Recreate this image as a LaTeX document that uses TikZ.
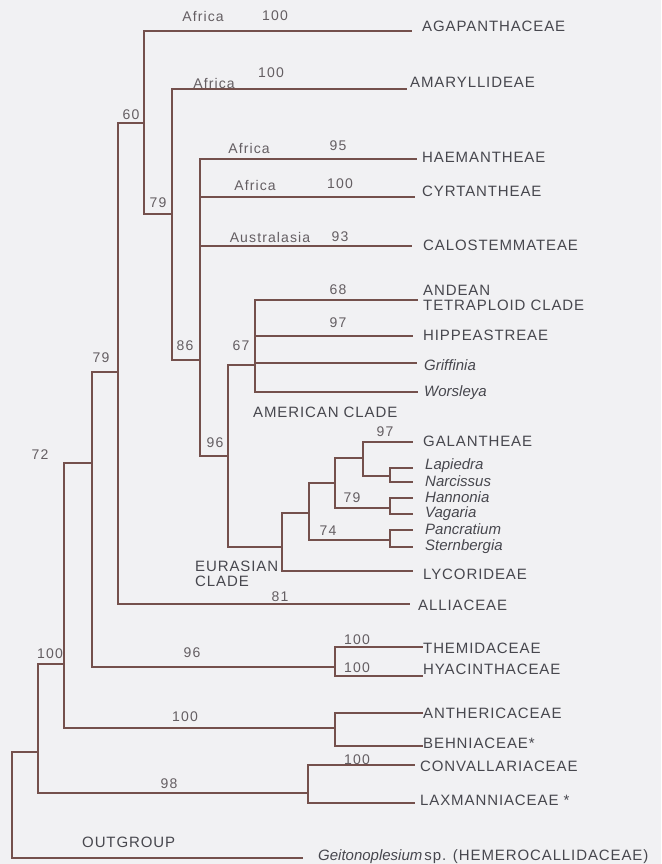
\documentclass[tikz,border=0pt]{standalone}
\usepackage{fontspec}
\setmainfont{Liberation Sans}
\newfontfamily\labfont[LetterSpace=6]{Liberation Sans}
\newfontfamily\numfont[LetterSpace=8]{Liberation Sans}
\definecolor{edgecol}{HTML}{74504C}
\definecolor{labcol}{HTML}{47474E}
\definecolor{numcol}{HTML}{645E62}
\definecolor{bgcol}{HTML}{F1F1F3}
\tikzset{
  edge/.style={draw=edgecol, line width=1.2pt},
  taxon/.style={text=labcol, font=\labfont\fontsize{15}{15}\selectfont, inner sep=0pt, anchor=base west},
  genus/.style={text=labcol, font=\fontsize{15}{15}\selectfont\itshape, inner sep=0pt, anchor=base west},
  multi/.style={text=labcol, font=\labfont\fontsize{15}{15}\selectfont, inner sep=0pt, anchor=north west, align=left},
  supp/.style={text=numcol, font=\numfont\fontsize{14}{14}\selectfont, inner sep=0pt, anchor=center},
}
\begin{document}
\begin{tikzpicture}[x=1pt,y=-1pt]
\fill[bgcol] (0,0) rectangle (661,864);
\useasboundingbox (0,0) rectangle (661,864);

% internal nodes (x of vertical, y where parent attaches)
\coordinate (root) at (12,805);
\coordinate (n100L) at (38,752);
\coordinate (n72) at (64,664);
\coordinate (n79L) at (92,463);
\coordinate (n60) at (118,372);
\coordinate (n79) at (144,123);
\coordinate (n86) at (172,214);
\coordinate (nX) at (200,360);
\coordinate (n96) at (228,456);
\coordinate (n67) at (255,365);
\coordinate (nEur) at (282,547);
\coordinate (nA) at (309,513);
\coordinate (nB) at (335,483);
\coordinate (n97) at (363,458);
\coordinate (nLN) at (390,476);
\coordinate (n79E) at (390,508);
\coordinate (n74) at (390,540);
\coordinate (nThem) at (335,667);
\coordinate (nAnth) at (335,728);
\coordinate (n98) at (308,793);

% leaf tips
\coordinate (tAgap) at (412,31);
\coordinate (tAmar) at (407,89);
\coordinate (tHaem) at (417,159);
\coordinate (tCyrt) at (415,197);
\coordinate (tCalo) at (412,246);
\coordinate (tAnde) at (418,300);
\coordinate (tHipp) at (413,336);
\coordinate (tGrif) at (417,363);
\coordinate (tWors) at (418,392);
\coordinate (tGala) at (413,442);
\coordinate (tLapi) at (413,468);
\coordinate (tNarc) at (413,482);
\coordinate (tHann) at (413,498);
\coordinate (tVaga) at (413,514);
\coordinate (tPanc) at (413,530);
\coordinate (tSter) at (413,547);
\coordinate (tLyco) at (413,571);
\coordinate (tAlli) at (410,604);
\coordinate (tThem) at (423,647);
\coordinate (tHyac) at (423,676);
\coordinate (tAnth) at (423,713);
\coordinate (tBehn) at (423,746);
\coordinate (tConv) at (415,765);
\coordinate (tLaxm) at (415,803);
\coordinate (tGeit) at (303,858);

% edges
\draw[edge] (root) |- (n100L);
\draw[edge] (root) |- (tGeit);
\draw[edge] (n100L) |- (n72);
\draw[edge] (n100L) |- (n98);
\draw[edge] (n98) |- (tConv);
\draw[edge] (n98) |- (tLaxm);
\draw[edge] (n72) |- (n79L);
\draw[edge] (n72) |- (nAnth);
\draw[edge] (nAnth) |- (tAnth);
\draw[edge] (nAnth) |- (tBehn);
\draw[edge] (n79L) |- (n60);
\draw[edge] (n79L) |- (nThem);
\draw[edge] (nThem) |- (tThem);
\draw[edge] (nThem) |- (tHyac);
\draw[edge] (n60) |- (n79);
\draw[edge] (n60) |- (tAlli);
\draw[edge] (n79) |- (tAgap);
\draw[edge] (n79) |- (n86);
\draw[edge] (n86) |- (tAmar);
\draw[edge] (n86) |- (nX);
\draw[edge] (nX) |- (tHaem);
\draw[edge] (nX) |- (tCyrt);
\draw[edge] (nX) |- (tCalo);
\draw[edge] (nX) |- (n96);
\draw[edge] (n96) |- (n67);
\draw[edge] (n96) |- (nEur);
\draw[edge] (n67) |- (tAnde);
\draw[edge] (n67) |- (tHipp);
\draw[edge] (n67) |- (tGrif);
\draw[edge] (n67) |- (tWors);
\draw[edge] (nEur) |- (nA);
\draw[edge] (nEur) |- (tLyco);
\draw[edge] (nA) |- (nB);
\draw[edge] (nA) |- (n74);
\draw[edge] (nB) |- (n97);
\draw[edge] (nB) |- (n79E);
\draw[edge] (n97) |- (tGala);
\draw[edge] (n97) |- (nLN);
\draw[edge] (nLN) |- (tLapi);
\draw[edge] (nLN) |- (tNarc);
\draw[edge] (n79E) |- (tHann);
\draw[edge] (n79E) |- (tVaga);
\draw[edge] (n74) |- (tPanc);
\draw[edge] (n74) |- (tSter);

% taxon labels
\node[taxon] (lAgap) at (422,31.5) {AGAPANTHACEAE};
\node[taxon] (lAmar) at (410,87.5) {AMARYLLIDEAE};
\node[taxon] (lHaem) at (422,162.5) {HAEMANTHEAE};
\node[taxon] (lCyrt) at (422,196.5) {CYRTANTHEAE};
\node[taxon] (lCalo) at (423,250.5) {CALOSTEMMATEAE};
\node[multi] (lAnde) at (423,284.6) {ANDEAN\\TETRAPLOID CLADE};
\node[taxon] (lHipp) at (423,340.5) {HIPPEASTREAE};
\node[genus] (lGrif) at (424,370.5) {Griffinia};
\node[genus] (lWors) at (424,396.5) {Worsleya};
\node[taxon] (lGala) at (423,446.5) {GALANTHEAE};
\node[genus] (lLapi) at (425,469.5) {Lapiedra};
\node[genus] (lNarc) at (425,486.5) {Narcissus};
\node[genus] (lHann) at (425,502.5) {Hannonia};
\node[genus] (lVaga) at (425,517.5) {Vagaria};
\node[genus] (lPanc) at (425,534.5) {Pancratium};
\node[genus] (lSter) at (425,550.5) {Sternbergia};
\node[taxon] (lLyco) at (423,579.5) {LYCORIDEAE};
\node[taxon] (lAlli) at (418,610.5) {ALLIACEAE};
\node[taxon] (lThem) at (423,653.5) {THEMIDACEAE};
\node[taxon] (lHyac) at (423,674.5) {HYACINTHACEAE};
\node[taxon] (lAnth) at (423,718.5) {ANTHERICACEAE};
\node[taxon] (lBehn) at (423,748.5) {BEHNIACEAE*};
\node[taxon] (lConv) at (420,771.5) {CONVALLARIACEAE};
\node[taxon] (lLaxm) at (420,805.5) {LAXMANNIACEAE *};
\node[taxon] (lGeit) at (318,860.5) {{\fontspec{Liberation Sans}\itshape Geitonoplesium}\kern2pt sp. (HEMEROCALLIDACEAE)};

% clade names
\node[taxon, anchor=west] (lAmer) at (253,412) {AMERICAN CLADE};
\node[multi] (lEur) at (195,560.6) {EURASIAN\\CLADE};
\node[taxon, anchor=west] (lOut) at (82,842) {OUTGROUP};

% support values and regions
\node[supp] (sAfr1) at (203,16) {Africa};
\node[supp] (s100a) at (275,16) {100};
\node[supp] (sAfr2) at (214,83) {Africa};
\node[supp] (s100b) at (271,73) {100};
\node[supp] (s60) at (131,115) {60};
\node[supp] (s79) at (158,203) {79};
\node[supp] (sAfr3) at (249,148) {Africa};
\node[supp] (s95) at (338,146) {95};
\node[supp] (sAfr4) at (255,185) {Africa};
\node[supp] (s100c) at (340,184) {100};
\node[supp] (s86) at (185,346) {86};
\node[supp] (sAus) at (270,237) {Australasia};
\node[supp] (s93) at (340,237) {93};
\node[supp] (s68) at (338,290) {68};
\node[supp] (s97a) at (338,323) {97};
\node[supp] (s67) at (241,346) {67};
\node[supp] (s96a) at (215,443) {96};
\node[supp] (s97b) at (385,432) {97};
\node[supp] (s79E) at (352,498) {79};
\node[supp] (s74) at (328,531) {74};
\node[supp] (s81) at (280,597) {81};
\node[supp] (s79L) at (101,358) {79};
\node[supp] (s72) at (40,455) {72};
\node[supp] (s96b) at (192,653) {96};
\node[supp] (s100d) at (357,640) {100};
\node[supp] (s100e) at (357,668) {100};
\node[supp] (s100f) at (50,654) {100};
\node[supp] (s100g) at (185,717) {100};
\node[supp] (s100h) at (357,760) {100};
\node[supp] (s98) at (169,784) {98};
\end{tikzpicture}
\end{document}
